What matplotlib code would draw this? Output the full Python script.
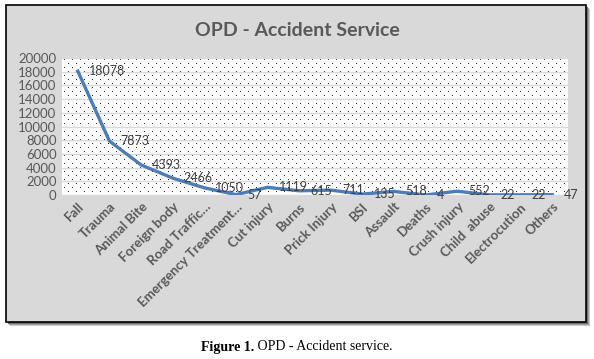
import matplotlib
matplotlib.use("Agg")
import matplotlib.pyplot as plt
from matplotlib.patches import Rectangle
import numpy as np

categories = ["Fall", "Trauma", "Animal Bite", "Foreign body", "Road Traffic\u2026",
              "Emergency Treatment\u2026", "Cut injury", "Burns", "Prick Injury", "BSI",
              "Assault", "Deaths", "Crush injury", "Child  abuse", "Electrocution", "Others"]
cases = [18078, 7873, 4393, 2466, 1050, 57, 1119, 615, 711, 135, 518, 4, 552, 22, 22, 47]
y_ticks = list(range(0, 20001, 2000))

plt.rcParams['font.family'] = ['Lato', 'DejaVu Sans']

fig = plt.figure(figsize=(5.94, 3.59), dpi=100)
fig.patch.set_facecolor('white')

# chart box with a soft shadow
W, H = 594, 359
for off, col in [(4, '#c8c8c8'), (3, '#a0a0a0'), (2, '#707070')]:
    fig.patches.append(Rectangle(((6 + off) / W, 1 - (322 + off) / H), 580 / W, 317 / H,
                                 transform=fig.transFigure, facecolor=col, edgecolor='none', zorder=0))
fig.patches.append(Rectangle((6 / W, 1 - 322 / H), 580 / W, 317 / H, transform=fig.transFigure,
                             facecolor='#d9d9d9', edgecolor='black', linewidth=1.2, zorder=1))

ax = fig.add_axes([62 / W, 1 - 195 / H, (568 - 62) / W, (195 - 58) / H])
ax.set_zorder(2)
ax.patch.set_facecolor('white')

# Excel-style dotted plot-area fill (texture only)
pw, ph = 568 - 62, 195 - 58
tex = np.ones((ph, pw))
rows, cols = np.mgrid[0:ph, 0:pw]
tex[(rows % 4 == 1) & ((cols + (rows // 4 % 2) * 4) % 8 == 2)] = 0.15
ax.imshow(tex, cmap='gray', vmin=0, vmax=1, extent=(0, 1, 0, 1), transform=ax.transAxes,
          interpolation='nearest', aspect='auto', zorder=0)

x = list(range(len(categories)))
ax.plot(x, cases, color='#4a7dbf', linewidth=2.4, solid_joinstyle='round', zorder=3)
for xi, v in zip(x, cases):
    ax.annotate(str(v), (xi, v), xytext=(8, 0), textcoords='offset points',
                ha='left', va='center', fontsize=9, color='#404040', zorder=4)

ax.set_xlim(-0.5, len(categories) - 0.5)
ax.set_ylim(0, 20000)
ax.set_yticks(y_ticks)
ax.yaxis.grid(True, color='#d9d9d9', linewidth=1)
ax.set_axisbelow(True)
ax.set_xticks(x)
ax.set_xticklabels(categories, rotation=45, ha='right', rotation_mode='anchor',
                   fontsize=9.5, fontweight='bold', color='#595959')
ax.tick_params(axis='y', labelsize=9.5, labelcolor='#595959', length=0, pad=4)
ax.tick_params(axis='x', length=0, pad=4)
for s in ax.spines.values():
    s.set_visible(False)

fig.text(297 / W, 1 - 30 / H, "OPD - Accident Service", ha='center', va='center',
         fontsize=14, fontweight='bold', color='#595959')

fig.text(0.428, 1 - 347 / H, "Figure 1.", ha='right', va='center', fontsize=10,
         fontweight='bold', family='Liberation Serif')
fig.text(0.428, 1 - 347 / H, " OPD - Accident service.", ha='left', va='center', fontsize=10,
         family='Liberation Serif')

fig.savefig("out.png", dpi=100)
